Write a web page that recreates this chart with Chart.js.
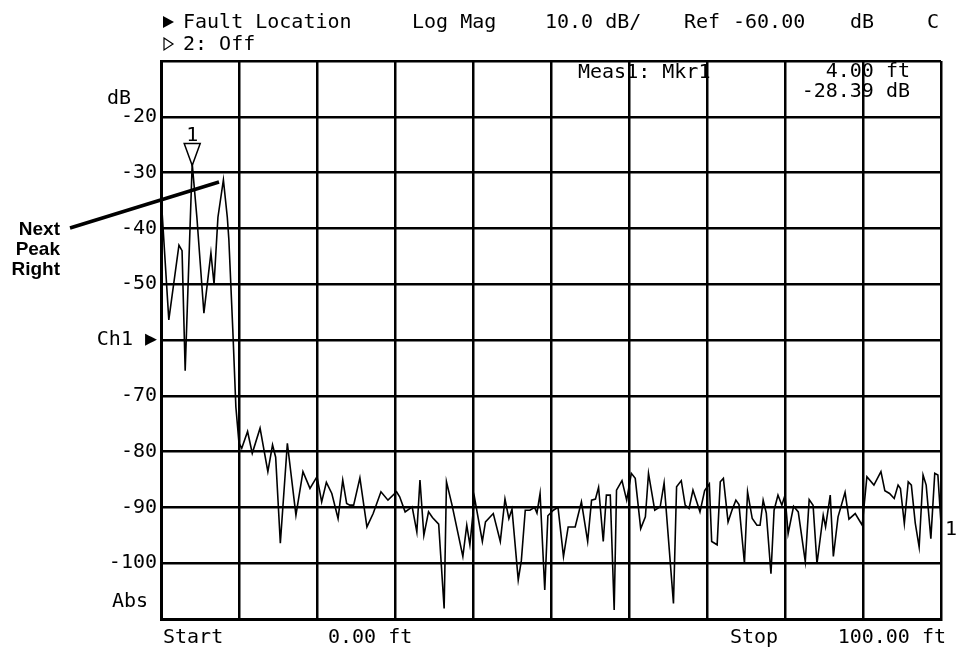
<!DOCTYPE html>
<html>
<head>
<meta charset="utf-8">
<title>Fault Location</title>
<script src="https://cdn.jsdelivr.net/npm/chart.js@4.4.1/dist/chart.umd.min.js"></script>
<style>
  html, body { margin: 0; padding: 0; background: #fff; }
  #wrap { position: relative; width: 960px; height: 651px; }
</style>
</head>
<body>
<div id="wrap">
  <canvas id="faultChart" width="960" height="651"></canvas>
</div>
<script>
const distFt = [
  0, 1.0, 2.3, 2.7, 3.1, 4.0, 4.6, 5.5, 6.4, 6.8, 7.3, 8.0, 8.5, 8.7, 9.2, 9.6, 10.0,
  10.35, 11.1, 11.7, 12.7, 13.7, 14.3, 14.7, 15.3, 16.2, 17.3, 18.2, 19.1, 20.0, 20.6,
  21.2, 21.9, 22.7, 23.3, 23.8, 24.2, 24.7, 25.5, 26.0, 26.4, 27.2, 28.2, 29.1, 30.2,
  30.6, 31.3, 32.2, 32.8, 33.2, 33.7, 34.3, 34.8, 35.6, 36.3, 36.6, 37.3, 38.7, 39.2,
  39.6, 40.2, 41.2, 41.6, 42.6, 43.5, 44.1, 44.6, 45.0, 45.8, 46.2, 46.7, 47.3, 47.9,
  48.2, 48.6, 49.2, 49.6, 50.3, 50.9,
  51.6, 52.2, 53.1, 53.9, 54.7, 55.2, 55.7, 56.1, 56.7, 57.1, 57.6, 58.1, 58.4, 59.1,
  59.7, 60.3, 60.8, 61.5, 62.1, 62.5, 63.3, 64.0, 64.5, 65.7, 66.1, 66.7, 67.2, 67.7,
  68.2, 69.1, 69.7, 70.3, 70.6, 71.3,
  71.7, 72.1, 72.7, 73.2, 73.7, 74.1, 74.8, 75.2, 75.8, 76.4, 76.8, 77.2, 77.6, 78.2,
  78.6, 79.1, 79.6, 80.0, 80.4, 81.1, 81.7, 82.6, 83.1, 83.6, 84.1, 84.9, 85.2, 85.8,
  86.2, 86.8, 87.7, 88.2, 89.0, 89.9,
  90.5, 91.4, 92.3, 92.8, 93.4, 94.0, 94.5, 94.8, 95.3, 95.8, 96.2, 96.7, 97.2, 97.7,
  98.1, 98.7, 99.2, 99.6, 100.0
];
const magDb = [
  -34, -56.4, -43, -44, -65.5, -28.39, -38, -55.2, -44.4, -50, -38, -31.3, -38, -42, -58, -72, -78.5,
  -79.4, -76.4, -80.3, -75.8, -83.6, -78.8, -81, -96.4, -78.5, -91.4, -83.6, -86.6, -84.5, -89.0,
  -85.5, -87.5, -92.0, -85.1, -89.3, -89.6, -89.6, -84.7, -89.6, -93.5, -91.1, -87.2, -88.7, -87.2,
  -88.1, -90.8, -89.9, -94.4, -85.1, -95.0, -90.8, -91.8, -93.0, -108.1, -85.4, -89.5, -98.8, -93.2,
  -96.7, -88.3, -96.1, -92.6, -91.1, -96.1, -88.5, -92.0, -90.3, -103, -99.5, -90.5, -90.5, -90.0,
  -91, -87.5, -104.8, -91.5, -90.5, -90,
  -98.8, -93.5, -93.5, -89.0, -96.1, -88.7, -88.5, -86.4, -96.1, -87.8, -87.8, -108.4, -86.9, -85.2,
  -88.7, -83.9, -84.8, -93.8, -91.7, -83.9, -90.5, -89.9, -85.6, -107.2, -86.3, -85.2, -89.6, -90.2,
  -86.9, -90.8, -87, -85.8, -96.1, -96.7,
  -85.4, -84.8, -92.6, -90.5, -88.7, -89.5, -100, -87.2, -92.0, -93.2, -93.2, -88.7, -91, -101.9,
  -90.5, -87.8, -89.6, -87.8, -94.7, -89.8, -90.8, -99.7, -88.6, -89.6, -100.1, -91.4, -93.5, -87.8,
  -98.8, -91.7, -87.3, -92.1, -91.1, -93.2,
  -84.5, -86, -83.6, -87, -87.5, -88.4, -86.0, -86.6, -92.9, -85.4, -86.0, -92.8, -97.1, -84.2,
  -86.0, -95.6, -83.9, -84.2, -92.9
];

// Escala vertical: 10 dB/div, ref -60 dB en el centro
const yMin = -110;
const yMax = -10;
const yStep = 10;
const xMin = 0;
const xMax = 100;
const xStep = 10;

// Marcador 1
const markerFt = 4.0;
const markerDb = -28.39;

const MONO = '"DejaVu Sans Mono", monospace';

// Textos fijos alrededor de la rejilla
const textosPlugin = {
  id: "textos",
  afterDraw(chart) {
    const ctx = chart.ctx;
    const xs = chart.scales.x;
    const ys = chart.scales.y;
    ctx.save();
    ctx.fillStyle = "#000";
    ctx.strokeStyle = "#000";
    ctx.font = "20px " + MONO;
    ctx.textBaseline = "alphabetic";
    ctx.textAlign = "left";

    // cabecera
    ctx.beginPath();
    ctx.moveTo(163, 16); ctx.lineTo(174, 22); ctx.lineTo(163, 28); ctx.closePath();
    ctx.fill();
    ctx.fillText("Fault Location", 183, 28);
    ctx.fillText("Log Mag", 412, 28);
    ctx.fillText("10.0 dB/", 545, 28);
    ctx.fillText("Ref", 684, 28);
    ctx.fillText("-60.00", 733, 28);
    ctx.fillText("dB", 850, 28);
    ctx.fillText("C", 927, 28);
    ctx.lineWidth = 1.2;
    ctx.beginPath();
    ctx.moveTo(164, 38); ctx.lineTo(173, 44); ctx.lineTo(164, 50); ctx.closePath();
    ctx.stroke();
    ctx.fillText("2: Off", 183, 50);

    // lectura del marcador
    ctx.fillText("Meas1: Mkr1", 578, 78);
    ctx.textAlign = "right";
    ctx.fillText("4.00 ft", 910, 77);
    ctx.fillText("-28.39 dB", 910, 97);

    // eje y extra
    ctx.textAlign = "left";
    ctx.fillText("dB", 107, 104);
    ctx.fillText("Abs", 112, 607);

    // eje x
    ctx.fillText("Start", 163, 643);
    ctx.fillText("0.00 ft", 328, 643);
    ctx.fillText("Stop", 730, 643);
    ctx.textAlign = "right";
    ctx.fillText("100.00 ft", 946, 643);

    // "1" al final de la traza
    ctx.textAlign = "left";
    ctx.fillText("1", 945, 535);

    // marcador triangular
    const mx = xs.getPixelForValue(markerFt);
    const my = ys.getPixelForValue(markerDb);
    ctx.lineWidth = 1.5;
    ctx.beginPath();
    ctx.moveTo(mx, my + 2);
    ctx.lineTo(mx - 8, my - 20);
    ctx.lineTo(mx + 8, my - 20);
    ctx.closePath();
    ctx.stroke();
    ctx.textAlign = "center";
    ctx.fillText("1", mx, my - 23);

    // anotación "Next Peak Right"
    ctx.font = "bold 19px \"Liberation Sans\", Arial, sans-serif";
    ctx.textAlign = "right";
    ctx.fillText("Next", 60, 235);
    ctx.fillText("Peak", 60, 255);
    ctx.fillText("Right", 60, 275);
    ctx.lineWidth = 3.5;
    ctx.beginPath();
    ctx.moveTo(70, 228);
    ctx.lineTo(219, 182);
    ctx.stroke();
    ctx.restore();
  },
};

const ctx = document.getElementById("faultChart").getContext("2d");
new Chart(ctx, {
  type: "line",
  data: {
    datasets: [
      {
        data: distFt.map((d, i) => ({ x: d, y: magDb[i] })),
        borderColor: "#000",
        borderWidth: 1.6,
        pointRadius: 0,
        tension: 0,
        fill: false,
      },
    ],
  },
  options: {
    responsive: false,
    animation: false,
    layout: { padding: { left: 0, top: 61, right: 19, bottom: 32 } },
    plugins: { legend: { display: false }, tooltip: { enabled: false } },
    scales: {
      x: {
        type: "linear",
        min: xMin,
        max: xMax,
        ticks: { display: false, stepSize: xStep },
        grid: { color: "#000", lineWidth: 2.5, drawTicks: false },
        border: { display: true, color: "#000", width: 3 },
      },
      y: {
        min: yMin,
        max: yMax,
        afterFit(scale) {
          scale.width = 161;
        },
        ticks: {
          stepSize: yStep,
          padding: 4,
          color: "#000",
          font: { family: MONO, size: 20 },
          callback: (v) => {
            if (v === yMin || v === yMax) return "";
            if (v === -60) return "Ch1 \u25B6";
            return String(v);
          },
        },
        grid: { color: "#000", lineWidth: 2.5, drawTicks: false },
        border: { display: true, color: "#000", width: 3 },
      },
    },
  },
  plugins: [textosPlugin],
});
</script>
</body>
</html>
